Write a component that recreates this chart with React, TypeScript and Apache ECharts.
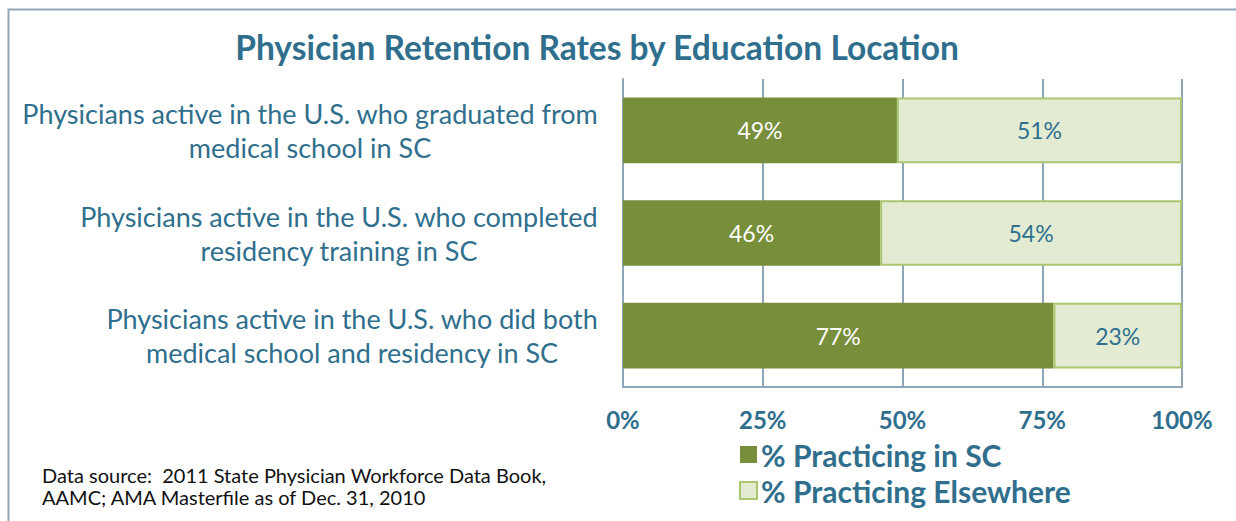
import React, { useEffect, useRef } from "react";
import * as echarts from "echarts";

const categories = [
  "Physicians active in the U.S. who graduated from\nmedical school in SC",
  "Physicians active in the U.S. who completed\nresidency training in SC",
  "Physicians active in the U.S. who did both\nmedical school and residency in SC",
];
const practicingInSC = [49, 46, 77];
const practicingElsewhere = [51, 54, 23];
const xTicks = [0, 25, 50, 75, 100];

const TEAL = "#2F6F8D";
const DARK = "#778E3B";
const LIGHT = "#E3ECD3";
const LIGHT_BORDER = "#AAC66F";
const GRID = "#90A6B8";
const FONT = "Lato";

export default function App() {
  const ref = useRef<HTMLDivElement>(null);
  useEffect(() => {
    document.body.style.margin = "0";
    const chart = echarts.init(ref.current!, null, { renderer: "svg" });
    chart.setOption({
      animation: false,
      backgroundColor: "#ffffff",
      title: {
        text: "Physician Retention Rates by Education Location",
        left: 592,
        top: 25,
        textAlign: "center",
        textStyle: { color: TEAL, fontFamily: FONT, fontWeight: "bold", fontSize: 33.5 },
      },
      graphic: [
        {
          type: "polyline",
          shape: { points: [[8.5, 521], [8.5, 9.5], [1236, 9.5]] },
          style: { stroke: GRID, lineWidth: 2, fill: null },
        },
        {
          type: "text",
          left: 42,
          top: 464,
          style: {
            text: "Data source:  2011 State Physician Workforce Data Book,\nAAMC; AMA Masterfile as of Dec. 31, 2010",
            fill: "#111111",
            font: `20px ${FONT}`,
            lineHeight: 22,
          },
        },
      ],
      legend: {
        orient: "vertical",
        left: 734,
        top: 434,
        itemWidth: 17,
        itemHeight: 17,
        itemGap: 5,
        data: [
          { name: "% Practicing in SC", icon: "rect" },
          { name: "% Practicing Elsewhere", icon: "rect" },
        ],
        textStyle: {
          color: TEAL,
          fontFamily: FONT,
          fontWeight: "bold",
          fontSize: 30,
          lineHeight: 31,
          padding: [0, 0, 0, -1],
        },
      },
      grid: { left: 623, right: 54, top: 79, bottom: 134 },
      xAxis: {
        type: "value",
        min: xTicks[0],
        max: xTicks[xTicks.length - 1],
        interval: 25,
        axisLine: { show: true, lineStyle: { color: GRID, width: 2 } },
        axisTick: { show: false },
        splitLine: { show: true, lineStyle: { color: GRID, width: 2 } },
        axisLabel: {
          formatter: "{value}%",
          color: TEAL,
          fontFamily: FONT,
          fontWeight: "bold",
          fontSize: 24,
          margin: 20,
        },
      },
      yAxis: {
        type: "category",
        inverse: true,
        data: categories,
        axisLine: { show: true, lineStyle: { color: GRID, width: 2 } },
        axisTick: { show: false },
        axisLabel: {
          margin: 25,
          formatter: (v: string) =>
            v
              .split("\n")
              .map((l) => `{c|${l}}`)
              .join("\n"),
          rich: {
            c: {
              align: "center",
              color: TEAL,
              fontFamily: FONT,
              fontSize: 27,
              lineHeight: 34,
            },
          },
        },
      },
      series: [
        {
          name: "% Practicing in SC",
          type: "bar",
          stack: "total",
          barWidth: "64%",
          data: practicingInSC,
          itemStyle: { color: DARK },
          label: {
            show: true,
            position: "inside",
            formatter: "{c}%",
            color: "#ffffff",
            fontFamily: FONT,
            fontSize: 23,
          },
        },
        {
          name: "% Practicing Elsewhere",
          type: "bar",
          stack: "total",
          data: practicingElsewhere,
          itemStyle: { color: LIGHT, borderColor: LIGHT_BORDER, borderWidth: 2 },
          label: {
            show: true,
            position: "inside",
            formatter: "{c}%",
            color: TEAL,
            fontFamily: FONT,
            fontSize: 23,
          },
        },
      ],
    });
    return () => chart.dispose();
  }, []);
  return (
    <div
      ref={ref}
      style={{ position: "absolute", left: 0, top: 0, width: 1236, height: 521 }}
    />
  );
}
